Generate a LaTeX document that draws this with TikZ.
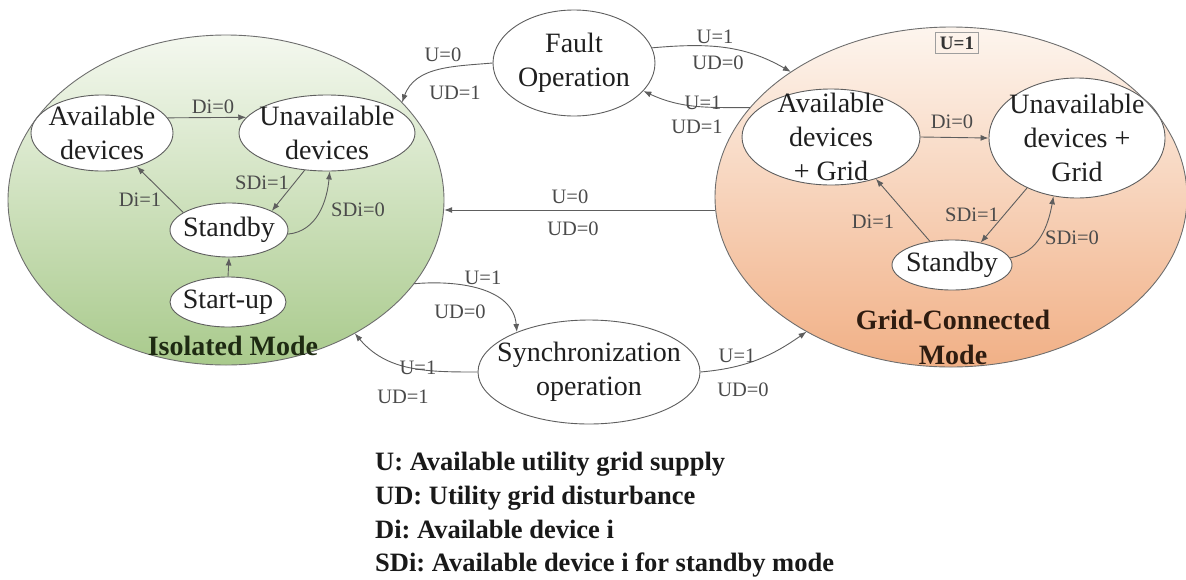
\documentclass[tikz,border=0pt]{standalone}
\usepackage{fontspec}
\setmainfont{Liberation Serif}
\usetikzlibrary{arrows.meta,shapes.geometric}
\definecolor{linec}{HTML}{5E5E5E}
\definecolor{lblc}{HTML}{4A4A4A}
\definecolor{greenTop}{HTML}{F4F8EF}
\definecolor{greenMid}{HTML}{D3E5C3}
\definecolor{greenBot}{HTML}{A9CA8C}
\definecolor{peachTop}{HTML}{FDF5EE}
\definecolor{peachMid}{HTML}{F9D6BC}
\definecolor{peachBot}{HTML}{F1B086}
\definecolor{isoText}{HTML}{1E2A12}
\definecolor{gridText}{HTML}{2E1C10}
\frenchspacing
\begin{document}
\begin{tikzpicture}[x=1pt,y=-1pt,
  modebox/.style={ellipse, inner sep=0pt},
  state/.style={ellipse, draw=linec, fill=white, line width=0.9pt, inner sep=-40pt,
    align=center, text=black!88, font=\fontsize{28}{34}\selectfont},
  lbl/.style={inner sep=1pt, text=lblc, font=\fontsize{20.5}{24}\selectfont},
  title/.style={inner sep=0pt, align=center, font=\bfseries\fontsize{28}{35}\selectfont},
  legend/.style={anchor=base west, inner sep=0pt, text=black!90, font=\bfseries\fontsize{26.5}{30}\selectfont},
  arr/.style={draw=linec, line width=0.9pt, -{Latex[length=8pt,width=6pt]}},
  border/.style={draw=linec!90, line width=0.9pt}]
\useasboundingbox (0,0) rectangle (1186,579);

% operating modes (filled regions)
\node[modebox, minimum width=436pt, minimum height=330pt,
  top color=greenTop, middle color=greenMid, bottom color=greenBot] (iso) at (226,200) {};
\node[modebox, minimum width=472pt, minimum height=340pt,
  top color=peachTop, middle color=peachMid, bottom color=peachBot] (grid) at (951,197) {};

% states of the isolated mode
\node[state, minimum width=142pt, minimum height=76pt] (avl) at (102,133) {Available\\devices};
\node[state, minimum width=176pt, minimum height=76pt] (unavl) at (327,133) {Unavailable\\devices};
\node[state, minimum width=118pt, minimum height=54pt] (sby) at (229,230) {Standby};
\node[state, minimum width=116pt, minimum height=50pt] (start) at (228,302) {Start-up};

% states of the grid-connected mode
\node[state, minimum width=178pt, minimum height=96pt] (avg) at (831,137) {Available\\devices\\+ Grid};
\node[state, minimum width=176pt, minimum height=120pt] (unavg) at (1077,138) {Unavailable\\devices +\\Grid};
\node[state, minimum width=120pt, minimum height=50pt] (sbyg) at (952,265) {Standby};

% transition states
\node[state, minimum width=162pt, minimum height=106pt] (fault) at (574,63) {Fault\\Operation};
\node[state, minimum width=222pt, minimum height=104pt] (sync) at (589,372) {Synchronization\\operation};

% mode outlines on top of the inner states
\draw[border] (iso.center) ellipse [x radius=218, y radius=165];
\draw[border] (grid.center) ellipse [x radius=236, y radius=170];

% mode titles
\node[title, text=isoText] (isot) at (233,346) {Isolated Mode};
\node[title, text=gridText] (gridt) at (953,337) {Grid-Connected\\Mode};
\node[draw=linec!60, line width=0.5pt, inner sep=0pt, minimum width=43pt, minimum height=21pt,
  font=\bfseries\fontsize{19}{20}\selectfont, text=black!80] (ubox) at (957,43) {U=1};

% transitions inside the isolated mode
\draw[arr] (avl.13) -- (unavl.169);
\draw[arr] (sby.159) -- (avl.-44);
\draw[arr] (unavl.-121) -- (sby.24);
\draw[arr] (sby.-4) to[out=5, in=-95] (unavl.-86);
\draw[arr] (start.north) -- (sby.south);
\node[lbl] (l1) at (213,107) {Di=0};
\node[lbl] (l2) at (140,200) {Di=1};
\node[lbl] (l3) at (262,183) {SDi=1};
\node[lbl] (l4) at (358,210) {SDi=0};

% transitions inside the grid-connected mode
\draw[arr] (avg.east) -- (unavg.west);
\draw[arr] (sbyg.133) -- (avg.-43);
\draw[arr] (unavg.-135) -- (sbyg.38);
\draw[arr] (sbyg.7) to[out=10, in=-100] (unavg.-112);
\node[lbl] (r1) at (952,122) {Di=0};
\node[lbl] (r2) at (873,222) {Di=1};
\node[lbl] (r3) at (972,215) {SDi=1};
\node[lbl] (r4) at (1072,238) {SDi=0};

% transitions between the modes
\draw[arr] (fault.west) to[out=185, in=70] (iso.29);
\node[lbl] (f1) at (443,55) {U=0};
\node[lbl] (f2) at (455,93) {UD=1};

\draw[arr] (fault.11) to[out=5, in=150] (grid.142);
\node[lbl] (f3) at (715,37) {U=1};
\node[lbl] (f4) at (718,63) {UD=0};

\draw[arr] (grid.156) to[out=180, in=-25] (fault.-22);
\node[lbl] (f5) at (703,103) {U=1};
\node[lbl] (f6) at (697,127) {UD=1};

\draw[arr] (grid.west |- 0,210) -- (iso.east |- 0,210);
\node[lbl] (h1) at (570,197) {U=0};
\node[lbl] (h2) at (573,229) {UD=0};

\draw[arr] (iso.-24) to[out=5, in=95] (sync.151);
\node[lbl] (s1) at (483,278) {U=1};
\node[lbl] (s2) at (460,312) {UD=0};

\draw[arr] (sync.west) to[out=180, in=-50] (iso.-46);
\node[lbl] (s3) at (418,368) {U=1};
\node[lbl] (s4) at (403,397) {UD=1};

\draw[arr] (sync.east) to[out=5, in=215] (grid.-137);
\node[lbl] (s5) at (737,356) {U=1};
\node[lbl] (s6) at (743,390) {UD=0};

% legend
\node[legend] (lgU) at (375,470) {U: Available utility grid supply};
\node[legend] (lgUD) at (375,504) {UD: Utility grid disturbance};
\node[legend] (lgDi) at (375,538) {Di: Available device i};
\node[legend] (lgSDi) at (375,571) {SDi: Available device i for standby mode};
\end{tikzpicture}
\end{document}
